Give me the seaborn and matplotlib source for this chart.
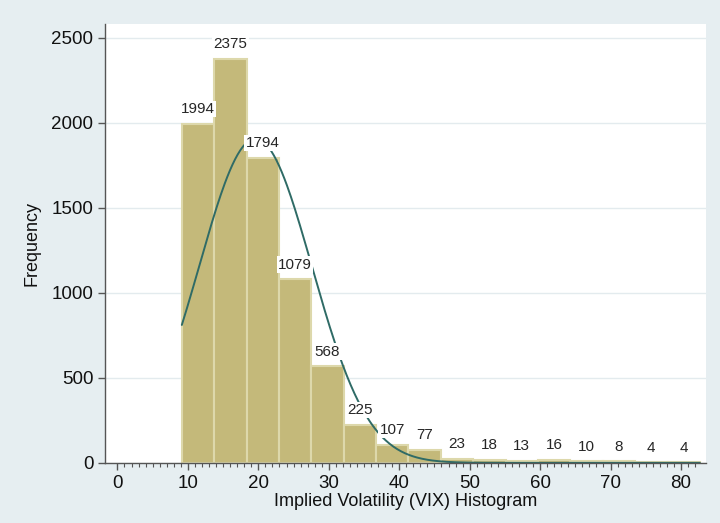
import numpy as np
import pandas as pd
import matplotlib.pyplot as plt
import seaborn as sns

# Bin counts
counts = [1994, 2375, 1794, 1079, 568, 225, 107, 77, 23, 18, 13, 16, 10, 8, 4, 4]
bin_start = 9.14
bin_end = 82.69
# Normal overlay parameters (estimated)
vix_mean = 19.6
vix_sd = 8.0

edges = np.linspace(bin_start, bin_end, len(counts) + 1)
centers = (edges[:-1] + edges[1:]) / 2
df = pd.DataFrame({"vix": centers, "n": counts})

sns.set_style("white")
plt.rcParams["font.family"] = ["Liberation Sans", "DejaVu Sans"]

fig = plt.figure(figsize=(7.2, 5.23), dpi=100, facecolor="#e6eef1")
ax = fig.add_axes([0.146, 0.115, 0.835, 0.839])
ax.set_facecolor("white")

ax.grid(axis="y", color="#e3ebee", linewidth=1)
ax.set_axisbelow(True)

sns.histplot(
    data=df,
    x="vix",
    weights="n",
    bins=list(edges),
    color="#c4b97a",
    edgecolor="#ddd8ab",
    linewidth=1.5,
    alpha=1,
    ax=ax
)

# Normal density scaled to counts
xs = np.linspace(bin_start, bin_end, 400)
binw = edges[1] - edges[0]
ys = sum(counts) * binw * np.exp(-0.5 * ((xs - vix_mean) / vix_sd) ** 2) / (vix_sd * np.sqrt(2 * np.pi))
sns.lineplot(x=xs, y=ys, color="#2f6b66", linewidth=1.4, ax=ax)

for c, n in zip(centers, counts):
    ax.text(c, n + 45, str(n), ha="center", va="bottom", fontsize=11,
            bbox=dict(facecolor="white", edgecolor="none", pad=1.0), zorder=5)

ax.set_xlim(-1.75, 83.6)
ax.set_ylim(0, 2580)
ax.set_xticks(range(0, 90, 10))
ax.set_xticks(range(0, 83), minor=True)
ax.set_yticks(range(0, 3000, 500))

for s in ["top", "right"]:
    ax.spines[s].set_visible(False)
for s in ["left", "bottom"]:
    ax.spines[s].set_color("#555555")
    ax.spines[s].set_linewidth(1)

ax.tick_params(axis="both", which="major", direction="out", length=5, width=1,
               color="#555555", labelsize=13.5, labelcolor="#111111", bottom=True, left=True)
ax.tick_params(axis="x", which="minor", direction="out", length=3, width=0.8,
               color="#555555", bottom=True)

ax.set_xlabel("Implied Volatility (VIX) Histogram", fontsize=13, labelpad=1, color="#111111")
ax.set_ylabel("Frequency", fontsize=13, labelpad=8, color="#111111")

plt.savefig("out.png", dpi=100, facecolor=fig.get_facecolor())
